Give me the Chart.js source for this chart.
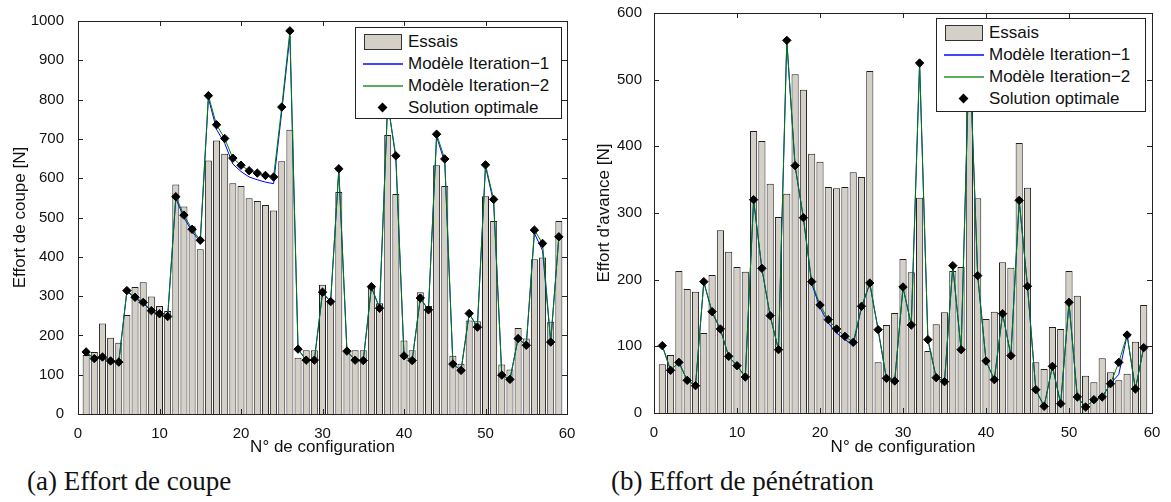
<!DOCTYPE html>
<html>
<head>
<meta charset="utf-8">
<script src="https://cdn.jsdelivr.net/npm/chart.js@4.4.1/dist/chart.umd.min.js"></script>
<style>
  body{margin:0;background:#fff;width:1171px;height:502px;position:relative;overflow:hidden;
       font-family:"Liberation Sans",Arial,sans-serif;}
  canvas{position:absolute;top:0;}
  #c1{left:0;}
  #c2{left:590px;}
  .legend{position:absolute;background:#fff;border:1px solid #222;box-sizing:border-box;
          font-size:17px;color:#111;padding-top:3px;}
  .row{height:22px;display:flex;align-items:center;white-space:nowrap;}
  .sym{width:40px;margin-left:7px;margin-right:5px;height:22px;position:relative;}
  .rect{position:absolute;left:1px;top:3px;width:38px;height:16px;background:#d4d0c8;border:1px solid #333;box-sizing:border-box;}
  .ln{position:absolute;left:0;top:10px;width:40px;height:2px;}
  .dia{position:absolute;left:16px;top:7px;width:7px;height:7px;background:#000;transform:rotate(45deg);}
  .caption{position:absolute;font-family:"Liberation Serif","Times New Roman",serif;font-size:27px;
           color:#111;top:466px;line-height:30px;}
</style>
</head>
<body>
<canvas id="c1" width="590" height="458"></canvas>
<canvas id="c2" width="581" height="458"></canvas>

<div class="legend" id="leg1" style="left:355px;top:27px;width:207px;height:92px;"></div>
<div class="legend" id="leg2" style="left:936px;top:18px;width:210px;height:94px;"></div>

<div class="caption" style="left:27px;">(a) Effort de coupe</div>
<div class="caption" style="left:611px;">(b) Effort de pénétration</div>

<script>
// N° de configuration
const configs = [1,2,3,4,5,6,7,8,9,10,11,12,13,14,15,16,17,18,19,20,
  21,22,23,24,25,26,27,28,29,30,31,32,33,34,35,36,37,38,39,40,
  41,42,43,44,45,46,47,48,49,50,51,52,53,54,55,56,57,58,59];

// (a) effort de coupe [N]
const coupeEssais = [150,158,230,194,181,252,323,335,299,275,262,584,528,478,419,645,696,662,587,580,
  549,542,532,518,643,723,143,162,162,329,289,565,158,162,162,322,282,710,560,187,
  162,310,275,633,580,148,128,238,236,554,491,126,113,219,192,394,398,235,491];
const coupeIter1 = [156,141,145,135,132,312,295,282,261,253,246,548,500,464,438,804,724,689,636,617,
  603,596,590,586,770,962,165,137,137,308,286,620,160,137,136,322,270,795,650,148,
  136,294,265,706,640,127,111,255,221,630,538,99,88,192,175,460,416,183,451];
const coupeIter2 = [158,141,145,135,132,314,297,284,263,255,248,553,506,470,442,810,736,701,651,633,
  619,613,607,603,781,975,165,137,137,310,286,624,160,137,136,324,269,790,657,148,
  136,295,265,712,649,127,111,256,221,634,546,99,88,192,175,468,434,183,451];
const coupeOptimal = [158,141,145,135,132,314,297,284,263,255,248,553,506,470,442,810,736,701,651,633,
  619,613,607,603,781,975,165,137,137,310,286,624,160,137,136,324,269,790,657,148,
  136,295,265,712,649,127,111,256,221,634,546,99,88,192,175,468,434,183,451];

// (b) effort d'avance [N]
const avanceEssais = [73,87,213,186,182,120,207,274,242,219,212,423,408,344,294,329,508,485,389,377,
  339,337,339,361,354,513,76,132,150,231,211,323,93,133,151,213,219,470,322,141,
  152,226,218,405,338,76,66,129,126,213,176,56,46,82,61,49,59,107,162];
const avanceIter1 = [101,64,76,49,41,196,151,125,85,71,54,319,216,145,95,558,370,292,194,158,
  135,120,110,102,158,194,125,52,48,188,132,524,110,53,47,220,95,548,206,78,
  50,149,86,318,190,35,10,70,14,165,24,9,20,24,44,58,117,36,98];
const avanceIter2 = [101,64,76,49,41,197,152,126,85,71,54,320,217,146,95,559,371,293,197,162,
  140,126,115,106,160,195,125,52,48,189,132,525,110,53,47,221,95,550,206,78,
  50,149,86,319,190,35,10,70,14,166,24,9,20,24,44,76,117,36,98];
const avanceOptimal = [101,64,76,49,41,197,152,126,85,71,54,320,217,146,95,559,371,293,197,162,
  140,126,115,106,160,195,125,52,48,189,132,525,110,53,47,221,95,550,206,78,
  50,149,86,319,190,35,10,70,14,166,24,9,20,24,44,76,117,36,98];

const xTicksMax = 60;
const legendLabels = ["Essais","Modèle Iteration\u22121","Modèle Iteration\u22122","Solution optimale"];

const FONT = '"Liberation Sans", Arial, sans-serif';
const INK = '#111';

// box + inward ticks on all four sides, matlab style
const frame = {
  id:'frame',
  afterDraw(chart){
    const {ctx, chartArea:a, scales:{x, y}} = chart;
    ctx.save();
    ctx.strokeStyle = '#222';
    ctx.lineWidth = 1;
    ctx.beginPath();
    x.ticks.forEach(t => {
      const px = Math.round(x.getPixelForValue(t.value)) + 0.5;
      ctx.moveTo(px, a.bottom); ctx.lineTo(px, a.bottom - 5);
      ctx.moveTo(px, a.top); ctx.lineTo(px, a.top + 5);
    });
    y.ticks.forEach(t => {
      const py = Math.round(y.getPixelForValue(t.value)) + 0.5;
      ctx.moveTo(a.left, py); ctx.lineTo(a.left + 5, py);
      ctx.moveTo(a.right, py); ctx.lineTo(a.right - 5, py);
    });
    ctx.stroke();
    ctx.strokeRect(Math.round(a.left) + 0.5, Math.round(a.top) + 0.5,
                   Math.round(a.right - a.left), Math.round(a.bottom - a.top));
    ctx.restore();
  }
};

function makeChart(id, essais, iter1, iter2, optimal, yMax, yTitle, box){
  const pts = arr => arr.map((v, i) => ({x: configs[i], y: v}));
  return new Chart(document.getElementById(id), {
    type:'bar',
    data:{datasets:[
      {type:'line', label:legendLabels[3], data:pts(optimal), showLine:false,
       pointStyle:'rectRot', pointRadius:4.2, pointBorderWidth:1,
       pointBackgroundColor:'#000', pointBorderColor:'#000', order:0},
      {type:'line', label:legendLabels[2], data:pts(iter2), borderColor:'#008000',
       borderWidth:1, pointRadius:0, fill:false, order:1},
      {type:'line', label:legendLabels[1], data:pts(iter1), borderColor:'#0000ff',
       borderWidth:1, pointRadius:0, fill:false, order:2},
      {type:'bar', label:legendLabels[0], data:pts(essais), backgroundColor:'#d4d0c8',
       borderColor:'#1e1e1e', borderWidth:1, barPercentage:0.86, categoryPercentage:1, order:3}
    ]},
    options:{
      responsive:false, animation:false, devicePixelRatio:1,
      layout:{padding:box.padding},
      plugins:{legend:{display:false}, tooltip:{enabled:false}},
      scales:{
        x:{type:'linear', min:0, max:xTicksMax, offset:false,
           grid:{display:false}, border:{display:false},
           ticks:{stepSize:10, color:INK, font:{family:FONT, size:15}, padding:3, maxRotation:0,
                  callback: v => String(v)},
           title:{display:true, text:'N° de configuration', color:INK,
                  font:{family:FONT, size:17}, padding:{top:0, bottom:0}},
           afterFit: s => { s.height = box.xh; }},
        y:{min:0, max:yMax,
           grid:{display:false}, border:{display:false},
           ticks:{stepSize:100, color:INK, font:{family:FONT, size:15}, padding:box.ypad,
                  callback: v => String(v)},
           title:{display:true, text:yTitle, color:INK,
                  font:{family:FONT, size:17}, padding:{top:2, bottom:0}},
           afterFit: s => { s.width = box.yw; }}
      }
    },
    plugins:[frame]
  });
}

function fillLegend(id){
  const syms = ['<div class="rect"></div>',
                '<div class="ln" style="background:#4646ff"></div>',
                '<div class="ln" style="background:#5aae5a"></div>',
                '<div class="dia"></div>'];
  document.getElementById(id).innerHTML = legendLabels.map((l, i) =>
    `<div class="row"><div class="sym">${syms[i]}</div><span>${l}</span></div>`).join('');
}

makeChart('c1', coupeEssais, coupeIter1, coupeIter2, coupeOptimal, 1000, 'Effort de coupe [N]',
  {padding:{top:21, right:23, left:8, bottom:0}, yw:70, xh:44, ypad:6});
makeChart('c2', avanceEssais, avanceIter1, avanceIter2, avanceOptimal, 600, "Effort d'avance [N]",
  {padding:{top:13, right:19, left:2, bottom:0}, yw:62, xh:45, ypad:4});
fillLegend('leg1');
fillLegend('leg2');
</script>
</body>
</html>
